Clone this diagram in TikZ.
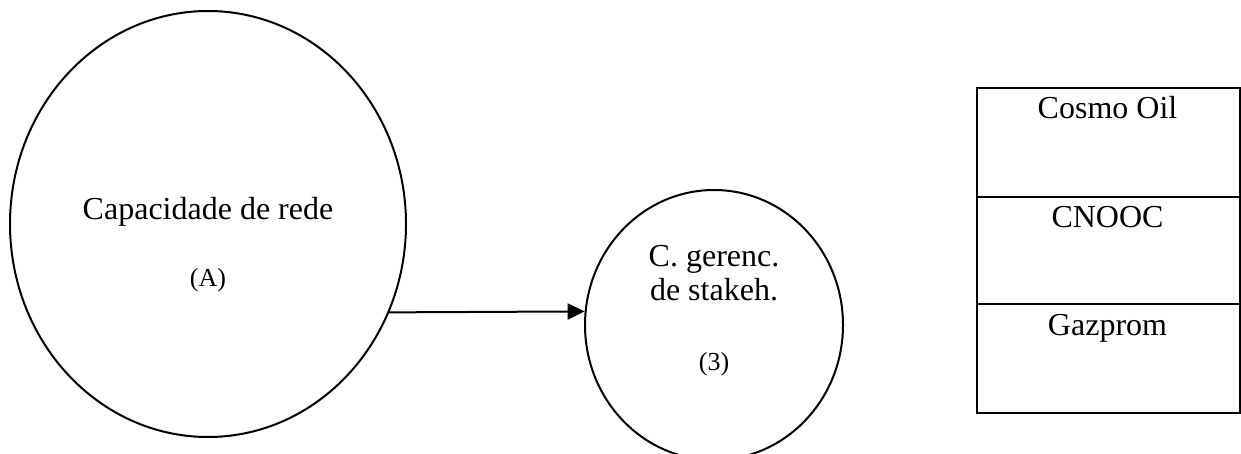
\documentclass[tikz,border=0pt]{standalone}
\usepackage{fontspec}
\setmainfont{Liberation Serif}
\usetikzlibrary{shapes.geometric,arrows.meta}

\tikzset{
  bubble/.style={draw, ellipse, line width=2pt, inner sep=0pt},
  cell/.style={draw, rectangle, line width=2pt, inner sep=0pt,
               minimum width=263pt, anchor=north west},
  bigtext/.style={anchor=base, inner sep=0pt, font=\fontsize{32}{36}\selectfont},
  smalltext/.style={anchor=base, inner sep=0pt, font=\fontsize{26}{30}\selectfont},
  link/.style={line width=2pt, -{Triangle[length=17pt,width=16pt]}}
}

\begin{document}
\begin{tikzpicture}[x=1pt, y=-1pt]
  \useasboundingbox (0,0) rectangle (1241,454);
  \clip (0,0) rectangle (1241,454);

  % network capability
  \node[bubble, minimum width=396pt, minimum height=426pt] (cap) at (208,224) {};
  \node[bigtext] (capname) at (208,220) {Capacidade de rede};
  \node[smalltext] (caplabel) at (208,286) {(A)};

  % stakeholder management capability
  \node[bubble, minimum width=258pt, minimum height=270pt] (stk) at (714,325) {};
  \node[bigtext] (stkname1) at (714,266) {C. gerenc.};
  \node[bigtext] (stkname2) at (714,300) {de stakeh.};
  \node[smalltext] (stklabel) at (714,370) {(3)};

  \draw[link] (cap.-26.3) -- (stk.174.7);

  % companies
  \node[cell, minimum height=109pt] (r1) at (976,87) {};
  \node[cell, minimum height=107pt] (r2) at (976,196) {};
  \node[cell, minimum height=109pt] (r3) at (976,303) {};
  \node[bigtext] (t1) at (1107.5,119) {Cosmo Oil};
  \node[bigtext] (t2) at (1107.5,228) {CNOOC};
  \node[bigtext] (t3) at (1107.5,335) {Gazprom};
\end{tikzpicture}
\end{document}
